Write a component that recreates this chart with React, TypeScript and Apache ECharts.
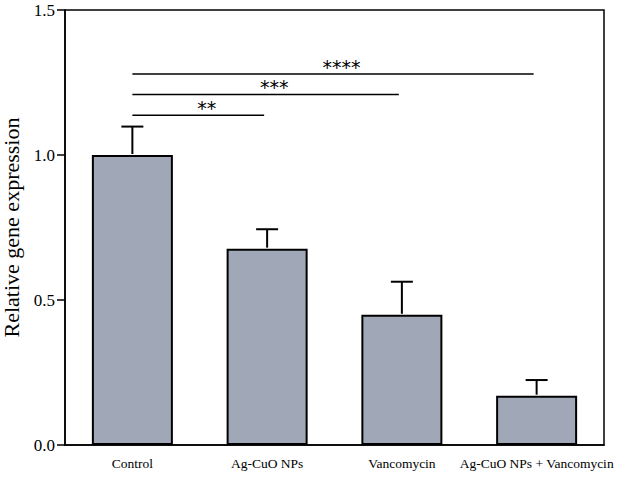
import React, { useEffect, useRef } from "react";
import * as echarts from "echarts";

const categories = ["Control", "Ag-CuO NPs", "Vancomycin", "Ag-CuO NPs + Vancomycin"];
const means = [1.0, 0.677, 0.449, 0.17];
const upperErrors = [0.098, 0.067, 0.114, 0.054];
const yTicks = [0, 0.5, 1.0, 1.5];
// significance brackets: [fromIndex, toIndex, yLevel, label]
const sigFrom = [0, 0, 0];
const sigTo = [1, 2, 3];
const sigLevel = [1.137, 1.209, 1.279];
const sigLabel = ["**", "***", "****"];

const FONT = "'Liberation Serif', 'DejaVu Serif', serif";

export default function App() {
  const ref = useRef<HTMLDivElement>(null);
  useEffect(() => {
    if (!ref.current) return;
    const chart = echarts.init(ref.current, undefined, { renderer: "svg" });
    const errData = means.map((m, i) => [i, m, m + upperErrors[i]]);
    const sigData = sigFrom.map((f, i) => [f, sigTo[i], sigLevel[i], i]);
    chart.setOption({
      animation: false,
      backgroundColor: "#ffffff",
      grid: {
        left: 65,
        right: 20,
        top: 10,
        bottom: 33,
        show: true,
        borderColor: "#000",
        borderWidth: 1.5,
        containLabel: false,
        outerBoundsMode: "none",
      },
      xAxis: {
        type: "category",
        data: categories,
        axisLine: { lineStyle: { color: "#000", width: 1.5 } },
        axisTick: { alignWithLabel: true, length: 7, lineStyle: { color: "#000", width: 1.5 } },
        axisLabel: { color: "#000", fontFamily: FONT, fontSize: 13.5, margin: 11, interval: 0 },
        splitLine: { show: false },
      },
      yAxis: {
        type: "value",
        min: 0,
        max: 1.5,
        interval: 0.5,
        name: "Relative gene expression",
        nameLocation: "middle",
        nameGap: 41,
        nameTextStyle: { color: "#000", fontFamily: FONT, fontSize: 22 },
        axisLine: { show: true, lineStyle: { color: "#000", width: 1.5 } },
        axisTick: { show: true, length: 8, lineStyle: { color: "#000", width: 1.5 } },
        axisLabel: {
          color: "#000",
          fontFamily: FONT,
          fontSize: 17,
          margin: 10,
          formatter: (v: number) => (yTicks.includes(v) ? v.toFixed(1) : ""),
        },
        splitLine: { show: false },
      },
      series: [
        {
          type: "bar",
          data: means,
          barWidth: 81,
          itemStyle: { color: "#a0a8b8", borderColor: "#000", borderWidth: 2 },
          z: 2,
        },
        {
          type: "custom",
          data: errData,
          z: 3,
          renderItem: (params: any, api: any) => {
            const x = api.value(0);
            const top = api.coord([x, api.value(2)]);
            const base = api.coord([x, api.value(1)]);
            return {
              type: "group",
              children: [
                {
                  type: "line",
                  shape: { x1: top[0], y1: base[1] - 1, x2: top[0], y2: top[1] },
                  style: { stroke: "#000", lineWidth: 2 },
                },
                {
                  type: "line",
                  shape: { x1: top[0] - 11, y1: top[1], x2: top[0] + 11, y2: top[1] },
                  style: { stroke: "#000", lineWidth: 2 },
                },
              ],
            };
          },
        },
        {
          type: "custom",
          data: sigData,
          z: 3,
          renderItem: (params: any, api: any) => {
            const p1 = api.coord([api.value(0), api.value(2)]);
            const p2 = api.coord([api.value(1), api.value(2)]);
            const idx = api.value(3);
            const mid = (p1[0] + p2[0]) / 2 + 7;
            return {
              type: "group",
              children: [
                {
                  type: "line",
                  shape: { x1: p1[0], y1: p1[1], x2: p2[0] - 3, y2: p2[1] },
                  style: { stroke: "#000", lineWidth: 1.5 },
                },
                {
                  type: "text",
                  style: {
                    text: sigLabel[idx],
                    x: mid,
                    y: p1[1] - 7,
                    fill: "#000",
                    font: "19px 'DejaVu Sans', sans-serif",
                    align: "center",
                    verticalAlign: "middle",
                  },
                },
              ],
            };
          },
        },
      ],
    });
    return () => chart.dispose();
  }, []);
  return (
    <div
      ref={ref}
      style={{ position: "fixed", left: 0, top: 0, width: 624, height: 478 }}
    />
  );
}
